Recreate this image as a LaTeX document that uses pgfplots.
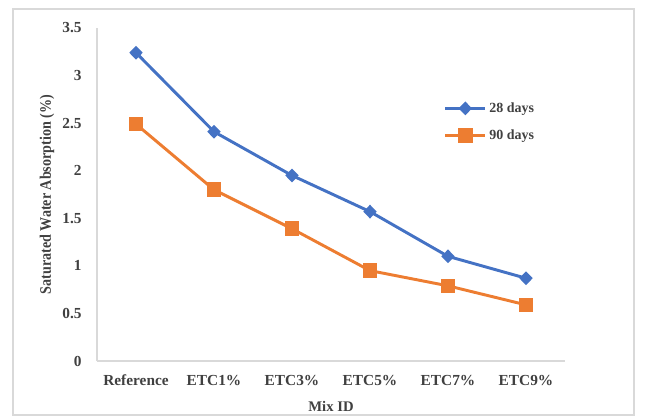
\documentclass[border=0pt]{standalone}
\usepackage{pgfplots}
\pgfplotsset{compat=1.18}
\usepackage{fontspec}
\setmainfont{Liberation Serif}
\definecolor{xlblue}{HTML}{4472C4}
\definecolor{xlorange}{HTML}{ED7D31}
\definecolor{xlgray}{HTML}{D9D9D9}
\definecolor{txtgray}{HTML}{404040}
\begin{document}
\begin{tikzpicture}[x=0.75pt,y=0.75pt]
% chart area
\path (0,0) rectangle (646,418);
\draw[xlgray, line width=0.9pt] (13,3) rectangle (634,409);
\begin{axis}[
  at={(97*0.75pt,57*0.75pt)}, anchor=south west,
  scale only axis, width=351pt, height=249.75pt,
  xmin=-0.5, xmax=5.5, ymin=0, ymax=3.5,
  xtick={0,...,5},
  xticklabels={Reference,ETC1\%,ETC3\%,ETC5\%,ETC7\%,ETC9\%},
  ytick={0,0.5,...,3.5},
  yticklabels={0,0.5,1,1.5,2,2.5,3,3.5},
  major tick length=0pt,
  axis x line*=bottom, axis y line*=left,
  axis line style={xlgray, line width=0.8pt, -},
  tick label style={font=\fontsize{11.5}{12}\selectfont\bfseries, text=txtgray},
  xticklabel style={yshift=-7pt},
  yticklabel style={xshift=-8pt},
  xlabel={Mix ID}, ylabel={Saturated Water Absorption (\%)},
  xlabel style={font=\fontsize{11}{12}\selectfont\bfseries, text=txtgray,
    at={(axis description cs:0.5,-0.135)}, anchor=center},
  ylabel style={font=\fontsize{12}{12}\selectfont\bfseries, text=txtgray,
    at={(axis description cs:-0.107,0.5)}, anchor=center, xscale=0.88},
  legend style={at={(0.732,0.793)}, anchor=north west, draw=none, fill=none,
    font=\fontsize{10.5}{12}\selectfont\bfseries, text=txtgray, row sep=7.5pt},
  legend cell align=left,
  legend image code/.code={
    \draw[#1] (0pt,0pt) -- (30pt,0pt);
    \draw[#1, mark repeat=2, mark phase=2] plot coordinates {(0pt,0pt) (15pt,0pt) (30pt,0pt)};
  },
]
\addplot[xlblue, line width=2.2pt, mark=diamond*, mark size=3.6pt, mark options={solid, xscale=1.3}]
  coordinates {(0,3.24) (1,2.41) (2,1.95) (3,1.57) (4,1.10) (5,0.87)};
\addlegendentry{28 days}
\addplot[xlorange, line width=2.2pt, mark=square*, mark size=4.4pt, mark options={solid}]
  coordinates {(0,2.49) (1,1.80) (2,1.39) (3,0.95) (4,0.79) (5,0.59)};
\addlegendentry{90 days}
\end{axis}
\end{tikzpicture}
\end{document}
